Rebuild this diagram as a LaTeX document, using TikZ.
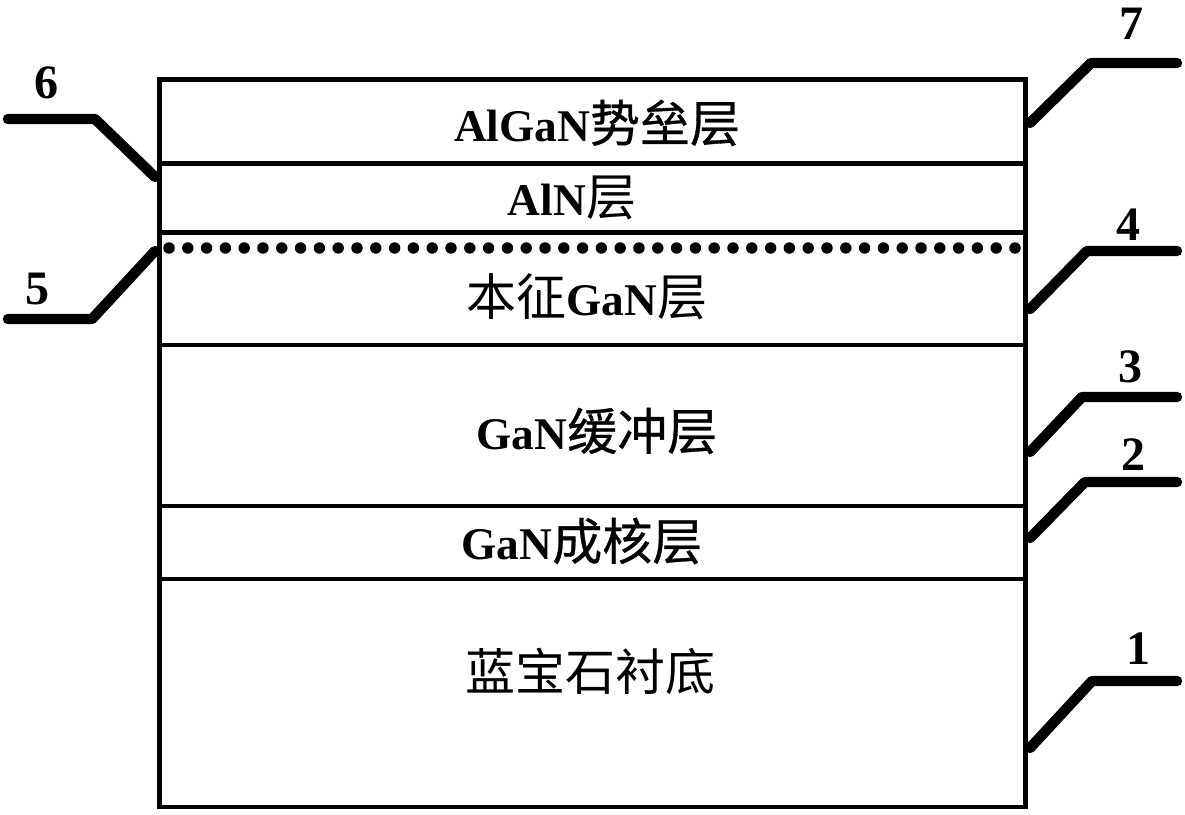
\documentclass[tikz,border=0pt]{standalone}
\usepackage{fontspec}
\setmainfont{Liberation Serif}
\newfontfamily\cjk{Noto Sans CJK SC}
\newfontfamily\cjkb[FakeBold=0.6]{Noto Sans CJK SC}
\newcommand{\zh}[1]{{\mdseries\cjk\fontsize{37.5}{40}\selectfont #1}}
\newcommand{\zhb}[1]{{\mdseries\cjkb\fontsize{37.5}{40}\selectfont #1}}
\tikzset{
  x=0.75pt,y=-0.75pt,
  layerbox/.style={draw=black,line width=3.2pt,fill=white,minimum width=649.5pt,inner sep=0pt,outer sep=0pt,anchor=north west},
  layertext/.style={inner sep=0pt,font=\fontsize{34}{38}\selectfont\bfseries},
  leader/.style={draw=black,line width=7.8pt,line join=round,line cap=round},
  digit/.style={font=\fontsize{36}{38}\selectfont\bfseries,inner sep=0pt},
  dotrow/.style={draw=black,line width=8.6pt,line cap=round,dash pattern=on 0pt off 14.1pt}
}
\begin{document}
\begin{tikzpicture}
\useasboundingbox (0,0) rectangle (1185,814);
\fill[white] (0,0) rectangle (1185,814);

\coordinate (a6) at (155,177); \coordinate (b6) at (95,119); \coordinate (c6) at (8,119);
\coordinate (a5) at (155,251); \coordinate (b5) at (92,319); \coordinate (c5) at (8,319);
\coordinate (a7) at (1030,123); \coordinate (b7) at (1091,63); \coordinate (c7) at (1177,63);
\coordinate (a4) at (1030,309); \coordinate (b4) at (1087,251); \coordinate (c4) at (1177,251);
\coordinate (a3) at (1030,452); \coordinate (b3) at (1082,397); \coordinate (c3) at (1177,397);
\coordinate (a2) at (1030,538); \coordinate (b2) at (1085,482); \coordinate (c2) at (1177,482);
\coordinate (a1) at (1030,748); \coordinate (b1) at (1092,681); \coordinate (c1) at (1177,681);
\foreach \n in {1,...,7} \draw[leader] (a\n) -- (b\n) -- (c\n);

\node[layerbox,minimum height=63pt] (algan) at (159.5,79.5) {};
\node[layerbox,minimum height=51.75pt] (aln) at (159.5,163.5) {};
\node[layerbox,minimum height=84.4pt] (igan) at (159.5,232.5) {};
\node[layerbox,minimum height=120.75pt] (buf) at (159.5,345) {};
\node[layerbox,minimum height=54.75pt] (nuc) at (159.5,506) {};
\node[layerbox,minimum height=171pt] (sub) at (159.5,579) {};

\node[layertext] (t7) at (597,123) {AlGaN\zhb{势垒层}};
\node[layertext] (t6) at (572,198) {AlN\zh{层}};
\node[layertext] (t4) at (587,297) {\zh{本征}GaN\zh{层}};
\node[layertext] (t3) at (597,431) {GaN\zhb{缓冲层}};
\node[layertext] (t2) at (582,541) {GaN\zhb{成核层}};
\node[layertext] (t1) at (590,671) {\zh{蓝宝石衬底}};

\coordinate (d1) at (169,248);
\coordinate (d2) at (1020,248);
\draw[dotrow] (d1) -- (d2);

\node[digit] (n6) at (46.5,83) {6};
\node[digit] (n5) at (37,289) {5};
\node[digit] (n7) at (1131,24) {7};
\node[digit] (n4) at (1128,225) {4};
\node[digit] (n3) at (1130,367) {3};
\node[digit] (n2) at (1133,455) {2};
\node[digit] (n1) at (1138,649) {1};
\end{tikzpicture}
\end{document}
